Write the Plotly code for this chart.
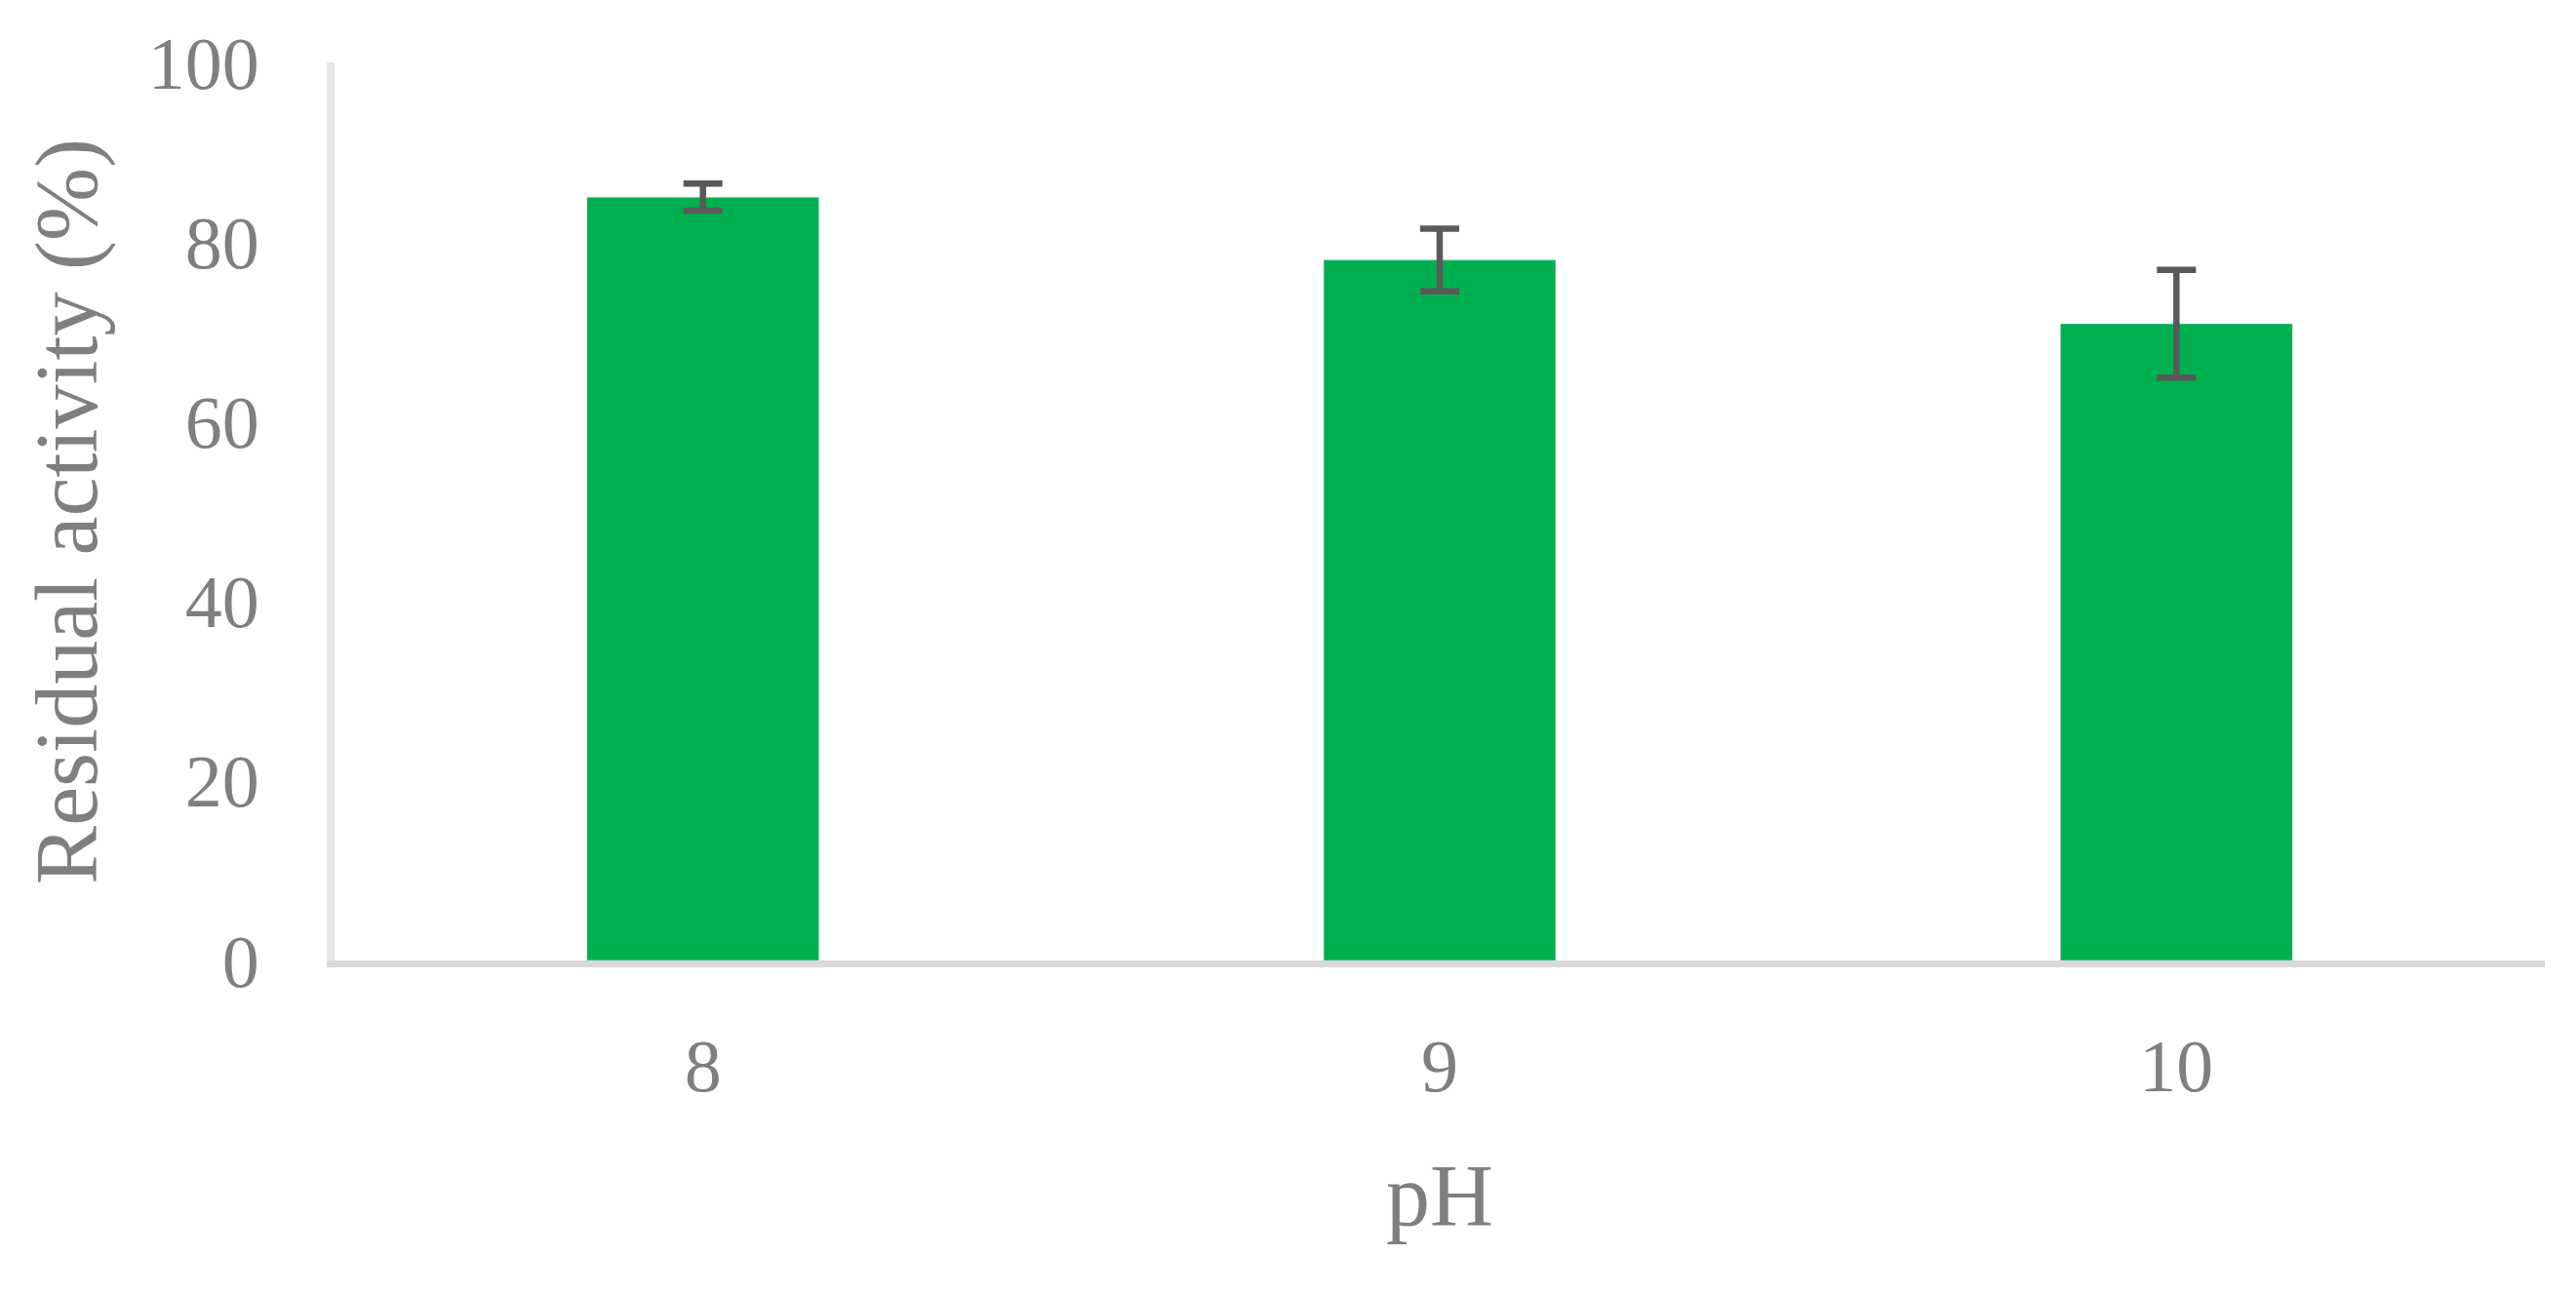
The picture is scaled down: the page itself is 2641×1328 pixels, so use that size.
import plotly.graph_objects as go

ph_levels = ["8", "9", "10"]
residual_activity = [85.0, 78.0, 70.9]
activity_sd = [1.5, 3.5, 6.0]
y_ticks = [0, 20, 40, 60, 80, 100]

serif = "Palatino Linotype, Book Antiqua, Liberation Serif, serif"
grey = "#7f7f7f"

fig = go.Figure()
fig.add_trace(go.Bar(
    x=ph_levels,
    y=residual_activity,
    marker_color="#00b050",
    error_y=dict(type="data", array=activity_sd, visible=True,
                 color="#595959", thickness=6.5, width=20),
))

# page body has an 8px margin, so the figure is a bit smaller than the window
fig.update_layout(
    width=2633, height=1320,
    margin=dict(l=335, r=32, t=56, b=343),
    plot_bgcolor="white", paper_bgcolor="white",
    bargap=0.685,
    showlegend=False,
    font=dict(family=serif, color=grey),
)
fig.update_xaxes(
    type="category",
    showgrid=False, zeroline=False,
    showline=True, linecolor="#d9d9d9", linewidth=7,
    ticks="", tickfont=dict(size=76, color=grey),
    ticklabelstandoff=36,
    title=dict(text="pH", font=dict(size=90, color=grey), standoff=62),
)
fig.update_yaxes(
    range=[0, 100], tickvals=y_ticks,
    showgrid=False, zeroline=False,
    showline=True, linecolor="#e6e6e6", linewidth=8,
    ticks="", tickfont=dict(size=76, color=grey),
    ticklabelstandoff=54,
    title=dict(text="Residual activity (%)", font=dict(size=90, color=grey), standoff=25),
)

fig.write_html("out.html")
